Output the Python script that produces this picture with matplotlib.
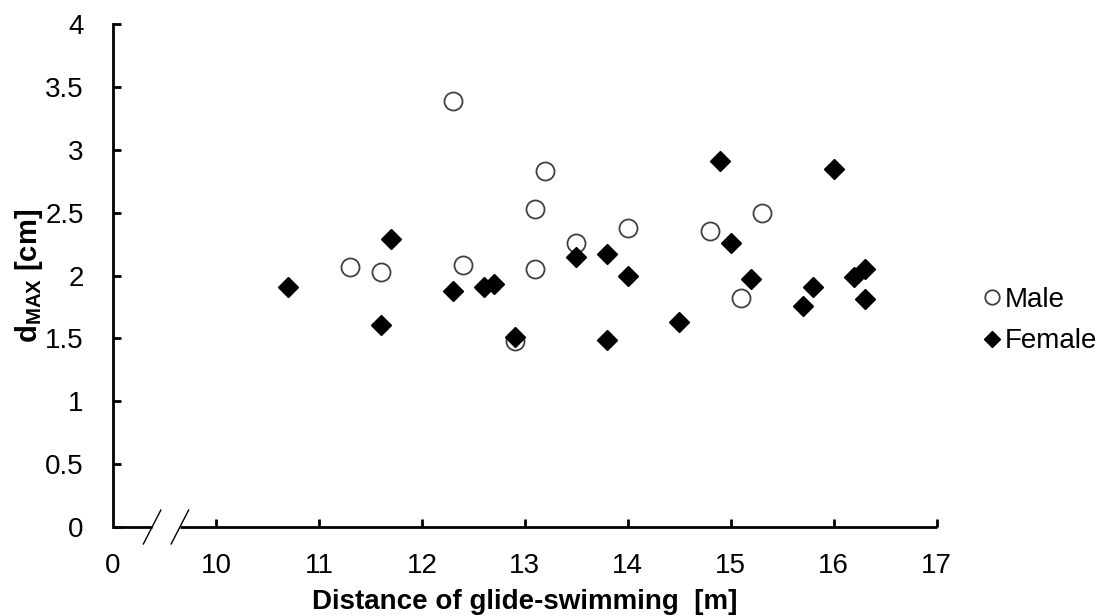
import matplotlib.pyplot as plt
from matplotlib.lines import Line2D

plt.rcParams["font.family"] = ["Liberation Sans", "DejaVu Sans"]
plt.rcParams["mathtext.fontset"] = "custom"
plt.rcParams["mathtext.rm"] = "Liberation Sans"
plt.rcParams["mathtext.bf"] = "Liberation Sans:bold"

# glide distance [m] vs d_MAX [cm]
male_x = [11.3, 11.6, 12.3, 12.4, 12.9, 13.1, 13.1, 13.2, 13.5, 14.0, 14.8, 15.1, 15.3]
male_y = [2.07, 2.03, 3.39, 2.08, 1.48, 2.53, 2.05, 2.83, 2.26, 2.38, 2.35, 1.82, 2.50]

female_x = [10.7, 11.6, 11.7, 12.3, 12.6, 12.7, 12.9, 13.5, 13.8, 13.8, 14.0,
            14.5, 14.9, 15.0, 15.2, 15.7, 15.8, 16.0, 16.2, 16.3, 16.3]
female_y = [1.91, 1.61, 2.29, 1.88, 1.91, 1.93, 1.51, 2.15, 2.17, 1.49, 2.00,
            1.63, 2.91, 2.26, 1.97, 1.76, 1.91, 2.85, 1.99, 2.05, 1.81]

x_ticks = [9, 10, 11, 12, 13, 14, 15, 16, 17]
x_tick_labels = ["0", "10", "11", "12", "13", "14", "15", "16", "17"]
y_ticks = [0, 0.5, 1, 1.5, 2, 2.5, 3, 3.5, 4]
y_tick_labels = ["0", "0.5", "1", "1.5", "2", "2.5", "3", "3.5", "4"]

FS = 20
XPAD = 19

fig = plt.figure(figsize=(11.1, 6.16), dpi=100)
ax = fig.add_axes([0.1018, 0.1445, 0.742, 0.8165])

ax.plot(male_x, male_y, linestyle="none", marker="o", markersize=13,
        markerfacecolor="white", markeredgecolor="#404040", markeredgewidth=1.3,
        label="Male", clip_on=False)
ax.plot(female_x, female_y, linestyle="none", marker="D", markersize=10,
        markerfacecolor="black", markeredgecolor="black", label="Female",
        clip_on=False)

ax.set_xlim(9, 17)
ax.set_ylim(0, 4)
ax.set_xticks(x_ticks[1:])
ax.set_xticklabels(x_tick_labels[1:])
ax.set_yticks(y_ticks)
ax.set_yticklabels(y_tick_labels)
# the "0" at the broken-axis origin, same offset as the other tick labels
ax.annotate(x_tick_labels[0], xy=(x_ticks[0], 0), xycoords=("data", "axes fraction"),
            xytext=(0, -XPAD), textcoords="offset points", ha="center", va="top",
            fontsize=FS, annotation_clip=False)

for s in ["top", "right", "bottom"]:
    ax.spines[s].set_visible(False)
ax.spines["left"].set_linewidth(2)

# bottom axis line with a break
lw = 2
ax.add_line(Line2D([9, 9.38], [0, 0], color="black", lw=lw, clip_on=False,
                   solid_capstyle="butt"))
ax.add_line(Line2D([9.65, 17], [0, 0], color="black", lw=lw, clip_on=False,
                   solid_capstyle="butt"))
for bx in [9.38, 9.65]:
    ax.add_line(Line2D([bx - 0.085, bx + 0.085], [-0.135, 0.135], color="black",
                       lw=1.0, clip_on=False))

ax.tick_params(axis="x", direction="in", length=6, width=2, labelsize=FS, pad=XPAD)
ax.tick_params(axis="y", direction="in", length=6, width=2, labelsize=FS, pad=21)

ax.set_xlabel("Distance of glide-swimming  [m]", fontsize=FS, fontweight="bold",
              labelpad=7)
ax.set_ylabel(r"$\mathbf{d}_{\mathbf{MAX}}$ [cm]", fontsize=21, fontweight="bold",
              labelpad=0)

leg = ax.legend(loc="center left", bbox_to_anchor=(1.0255, 0.41), frameon=False,
                fontsize=FS, handlelength=0.5, handletextpad=0.2, markerscale=0.8,
                labelspacing=0.55, borderaxespad=0.6)

fig.savefig("out.png", dpi=100)
